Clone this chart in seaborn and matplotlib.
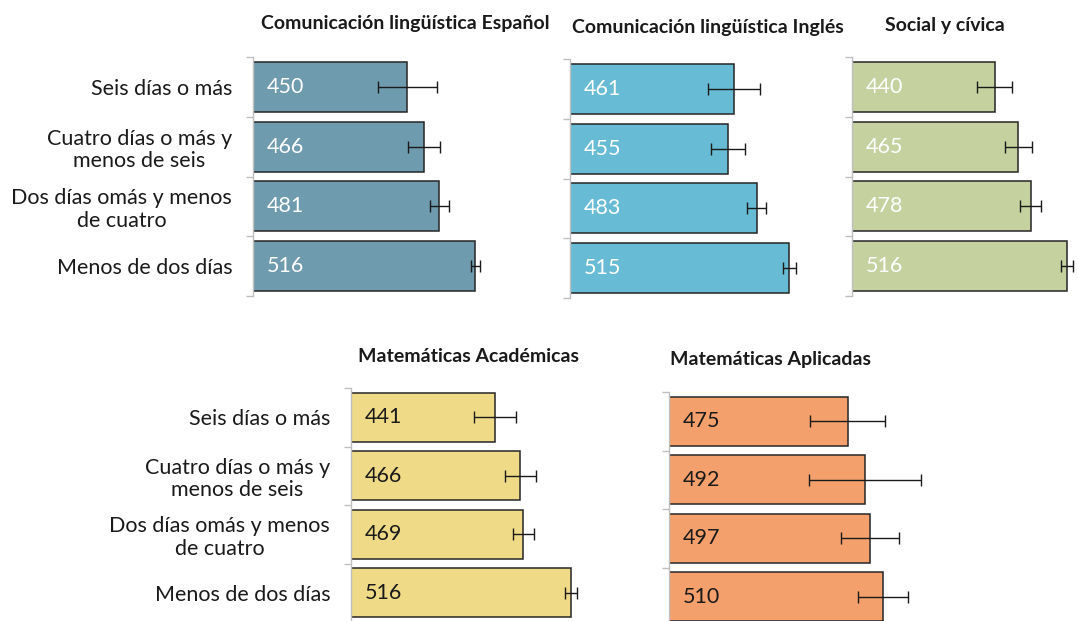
import matplotlib
matplotlib.use("Agg")
import matplotlib.pyplot as plt
import seaborn as sns
import pandas as pd

# ---------- data ----------
categories = ["Seis días o más",
              "Cuatro días o más y\nmenos de seis",
              "Dos días omás y menos\nde cuatro",
              "Menos de dos días"]

titles = ["Comunicación lingüística Español",
          "Comunicación lingüística Inglés",
          "Social y cívica",
          "Matemáticas Académicas",
          "Matemáticas Aplicadas"]

espanol = [450, 466, 481, 516]
ingles = [461, 455, 483, 515]
social = [440, 465, 478, 516]
mat_acad = [441, 466, 469, 516]
mat_apl = [475, 492, 497, 510]

err_espanol = [28.5, 15.5, 9, 4.5]
err_ingles = [25.5, 17, 9, 6.5]
err_social = [18, 14, 11, 6.5]
err_mat_acad = [20.5, 15, 10.5, 6]
err_mat_apl = [37, 55, 28.5, 24.5]

colors = ["#6F9BAE", "#67BBD4", "#C5D19F", "#EFDB87", "#F4A06D"]
text_colors = ["white", "white", "white", "#1a1a1a", "#1a1a1a"]

values = [espanol, ingles, social, mat_acad, mat_apl]
errors = [err_espanol, err_ingles, err_social, err_mat_acad, err_mat_apl]

# ---------- layout (pixel boxes: left, top, right, bottom) ----------
W, H = 1078, 621
boxes = [(253, 57, 555, 296),
         (570, 59, 845, 298),
         (852, 57, 1078, 296),
         (351, 388, 600, 622),
         (669, 392, 930, 626)]
xmins = [300, 300, 290, 300, 300]
px_per_unit = [1.03, 1.02, 0.95, 1.02, 1.02]
title_pos = [(405, 24), (708, 27), (945, 26), (469, 357), (771, 360)]

sns.set_style("white")
plt.rcParams["font.family"] = ["Lato", "DejaVu Sans"]

fig = plt.figure(figsize=(W / 100, H / 100), dpi=100)

for i, (title, vals, errs) in enumerate(zip(titles, values, errors)):
    l, t, r, b = boxes[i]
    ax = fig.add_axes([l / W, 1 - b / H, (r - l) / W, (b - t) / H])
    df = pd.DataFrame({"cat": categories, "val": vals})
    sns.barplot(data=df, x="val", y="cat", orient="h", color=colors[i],
                saturation=1, width=0.84, edgecolor="#262626", linewidth=1.1,
                errorbar=None, ax=ax)
    ax.errorbar(vals, range(len(vals)), xerr=errs, fmt="none",
                ecolor="#1a1a1a", elinewidth=1.0, capsize=4, capthick=1.0,
                clip_on=False)
    ax.set_xlim(xmins[i], xmins[i] + (r - l) / px_per_unit[i])
    ax.set_ylim(len(vals) - 0.5, -0.5)

    for j, v in enumerate(vals):
        ax.annotate(f"{v}", xy=(0, j), xycoords=ax.get_yaxis_transform(),
                    xytext=(10, 0), textcoords="offset points",
                    ha="left", va="center", fontsize=15.5,
                    color=text_colors[i])

    # office-chart look: only a grey left axis with ticks between categories
    for s in ["top", "right", "bottom"]:
        ax.spines[s].set_visible(False)
    ax.spines["left"].set_color("#BFBFBF")
    ax.spines["left"].set_linewidth(1.0)
    ax.set_xticks([])
    ax.set_xlabel("")
    ax.set_ylabel("")
    ax.set_yticks([k - 0.5 for k in range(len(vals) + 1)], minor=True)
    ax.tick_params(axis="y", which="minor", length=5, width=1.0,
                   color="#BFBFBF", left=True)
    ax.tick_params(axis="y", which="major", length=0, pad=15)
    if i in (0, 3):
        for lab in ax.get_yticklabels():
            lab.set_fontsize(15.5)
            lab.set_color("#1a1a1a")
            lab.set_multialignment("center")
            lab.set_linespacing(1.15)
    else:
        ax.set_yticklabels([])

    cx, cy = title_pos[i]
    fig.text(cx / W, 1 - cy / H, title, ha="center", va="center",
             fontsize=14, fontweight="bold", color="#1a1a1a")

fig.savefig("out.png", dpi=100)
